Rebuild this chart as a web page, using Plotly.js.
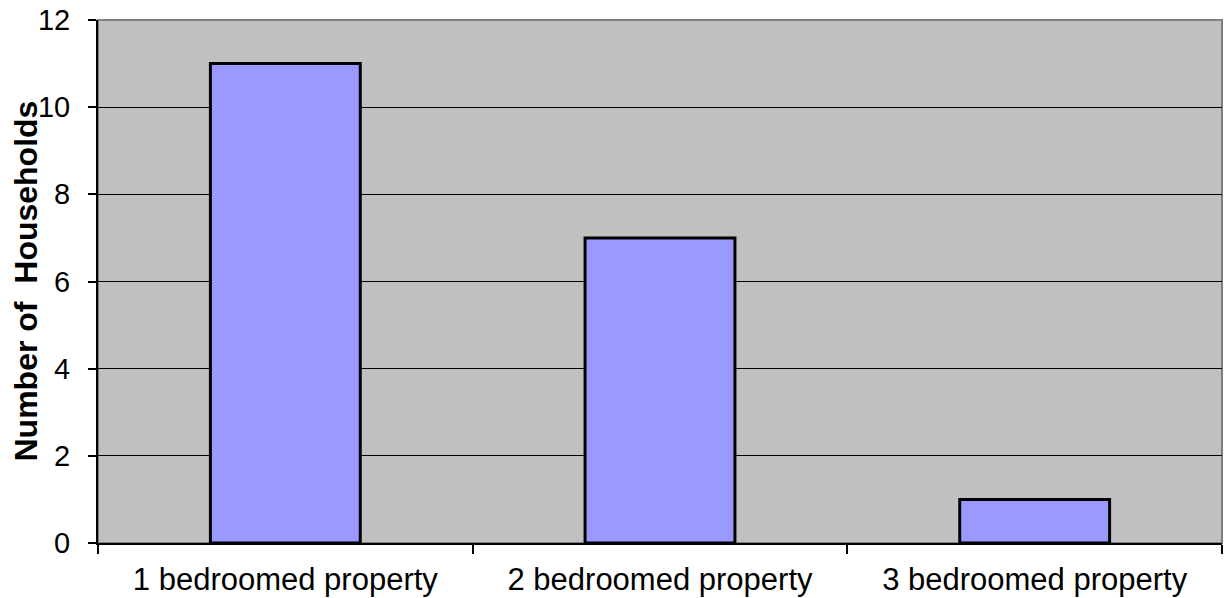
<!DOCTYPE html>
<html>
<head>
<meta charset="utf-8">
<script src="https://cdn.plot.ly/plotly-3.0.1.min.js"></script>
<style>html,body{margin:0;padding:0;background:#fff;}#chart{width:1232px;height:598px;}</style>
</head>
<body>
<div id="chart"></div>
<script>
const categories = ["1 bedroomed property", "2 bedroomed property", "3 bedroomed property"];
const households = [11, 7, 1];
const yTicks = [0, 2, 4, 6, 8, 10, 12];
const yTitle = 'Number of  Households';

const trace = {
  type: 'bar',
  x: categories,
  y: households,
  width: 0.4,
  marker: {color: '#9999FF', line: {color: '#000000', width: 3}},
  hoverinfo: 'x+y'
};

const layout = {
  width: 1232,
  height: 598,
  margin: {l: 98, r: 10, t: 20, b: 55},
  paper_bgcolor: '#FFFFFF',
  plot_bgcolor: '#C0C0C0',
  showlegend: false,
  font: {family: 'Liberation Sans, Arial, sans-serif', color: '#000000', size: 28},
  xaxis: {
    type: 'category',
    tickson: 'boundaries',
    ticks: 'outside',
    ticklen: 9,
    tickwidth: 2,
    tickcolor: '#000000',
    showline: true,
    linecolor: '#000000',
    linewidth: 2,
    showgrid: false,
    zeroline: false,
    ticklabelstandoff: 8,
    tickfont: {size: 31}
  },
  yaxis: {
    range: [0, 12],
    tickmode: 'array',
    tickvals: yTicks,
    ticktext: yTicks.map(String),
    ticks: 'outside',
    ticklen: 8,
    tickwidth: 2,
    tickcolor: '#000000',
    showline: true,
    linecolor: '#000000',
    linewidth: 2,
    showgrid: true,
    gridcolor: '#000000',
    gridwidth: 1,
    zeroline: false,
    ticklabelstandoff: 12,
    tickfont: {size: 29},
    automargin: false
  },
  annotations: [{
    text: '<b>' + yTitle + '</b>',
    xref: 'paper', yref: 'paper', x: 0, y: 0.5,
    xanchor: 'center', yanchor: 'middle', xshift: -73,
    textangle: -90, showarrow: false,
    font: {size: 32, family: 'Liberation Sans, Arial, sans-serif', color: '#000000'}
  }],
  shapes: [{
    type: 'rect', xref: 'paper', yref: 'paper', x0: 0, x1: 1, y0: 0, y1: 1,
    line: {color: '#808080', width: 2}, layer: 'below'
  }]
};

Plotly.newPlot('chart', [trace], layout, {displayModeBar: false, staticPlot: true});
</script>
</body>
</html>
